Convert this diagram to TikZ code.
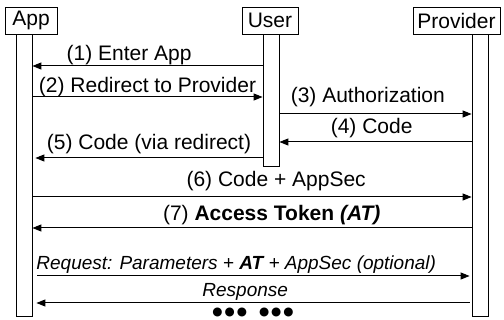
\documentclass[tikz,border=0pt]{standalone}
\usepackage{fontspec}
\setmainfont{Liberation Sans}
\newfontfamily\dotfont{DejaVu Sans}
\usetikzlibrary{positioning,arrows.meta}

\begin{document}
\begin{tikzpicture}[x=1pt,y=-1pt,
                    actor/.style={draw,line width=0.8pt,minimum height=27pt,inner sep=0pt,
                                  font=\fontsize{21}{24}\selectfont},
                    life/.style={draw,line width=0.8pt,minimum width=16pt,inner sep=0pt,anchor=north},
                    msg/.style={-{Triangle[length=9pt,width=7pt]},line width=1pt},
                    lbl/.style={anchor=base,inner sep=0pt,font=\fontsize{21}{24}\selectfont},
                    ilbl/.style={anchor=base,inner sep=0pt,font=\fontsize{19}{22}\selectfont\itshape}]
  \useasboundingbox (0,0) rectangle (504,320);

  \node[actor,minimum width=52pt] (app)  at (31,20.5)    {App};
  \node[actor,minimum width=56pt] (user) at (270,20.5)   {User};
  \node[actor,minimum width=87pt] (prov) at (456.5,20.5) {Provider};

  \node[life,minimum height=282pt] (appbar)  at (24,34)  {};
  \node[life,minimum height=132pt] (userbar) at (271,34) {};
  \node[life,minimum height=282pt] (provbar) at (480,34) {};

  \draw[msg] (userbar.west |- 0,66) -- node[lbl,pos=0.58,yshift=5.3pt] (m1) {(1) Enter App} (appbar.east |- 0,66);
  \draw[msg] (appbar.east |- 0,97) -- node[lbl,pos=0.5,yshift=4.3pt] (m2) {(2) Redirect to Provider} (userbar.west |- 0,97);
  \draw[msg] (userbar.east |- 0,114) -- node[lbl,pos=0.46,yshift=11pt] (m3) {(3) Authorization} (provbar.west |- 0,114);
  \draw[msg] (provbar.west |- 0,142) -- node[lbl,pos=0.52,yshift=8pt] (m4) {(4) Code} (userbar.east |- 0,142);
  \draw[msg] (userbar.west |- 0,158) -- node[lbl,pos=0.5,yshift=8.7pt] (m5) {(5) Code (via redirect)} ([xshift=3pt]appbar.east |- 0,158);
  \draw[msg] (appbar.east |- 0,197) -- node[lbl,pos=0.555,yshift=10pt] (m6) {(6) Code + AppSec} (provbar.west |- 0,197);
  \draw[msg] (provbar.west |- 0,228) -- node[lbl,pos=0.455,yshift=7pt] (m7) {(7) \textbf{Access Token \textit{(AT)}}} (appbar.east |- 0,228);

  \draw[msg] ([xshift=5pt]appbar.east |- 0,276) -- node[ilbl,pos=0.46,yshift=6.7pt] (req) {Request: Parameters + \textbf{AT} + AppSec (optional)} ([xshift=-2pt]provbar.west |- 0,276);
  \draw[msg] ([xshift=-2pt]provbar.west |- 0,303) -- node[ilbl,pos=0.518,yshift=6.3pt] (resp) {Response} ([xshift=4pt]appbar.east |- 0,303);

  \node[anchor=base,inner sep=0pt,font=\dotfont\fontsize{11.7}{13}\selectfont] (more) at (253,316)
    {●\hspace{2pt}●\hspace{2pt}●\hspace{12pt}●\hspace{2pt}●\hspace{2pt}●};
\end{tikzpicture}
\end{document}
